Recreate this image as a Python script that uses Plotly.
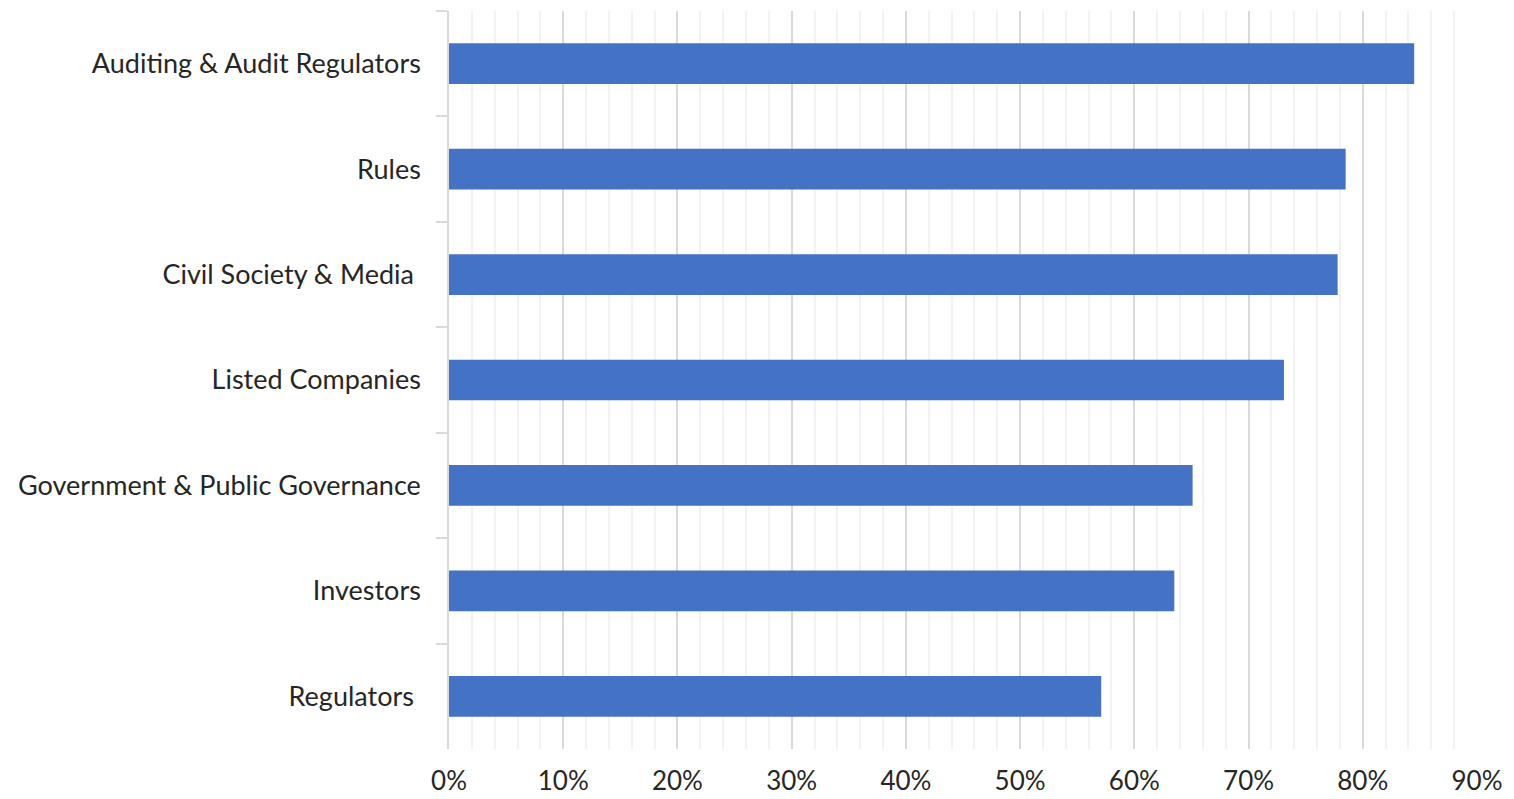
import plotly.graph_objects as go

categories = [
    "Auditing & Audit Regulators",
    "Rules",
    "Civil Society & Media ",
    "Listed Companies",
    "Government & Public Governance",
    "Investors",
    "Regulators ",
]
values = [0.845, 0.785, 0.778, 0.731, 0.651, 0.635, 0.571]
tick_vals = [0, 0.1, 0.2, 0.3, 0.4, 0.5, 0.6, 0.7, 0.8, 0.9]
tick_text = ["0%", "10%", "20%", "30%", "40%", "50%", "60%", "70%", "80%", "90%"]

fig = go.Figure(
    go.Bar(
        x=values,
        y=categories,
        orientation="h",
        marker=dict(color="#4472C4", line=dict(width=0)),
        width=0.386,
    )
)

font_family = "Lato, 'Open Sans', sans-serif"

fig.update_layout(
    width=1514,
    height=799,
    margin=dict(l=449, r=37, t=11, b=50),
    paper_bgcolor="white",
    plot_bgcolor="white",
    showlegend=False,
    font=dict(family=font_family, size=27, color="#262626"),
    xaxis=dict(
        range=[0, 0.9],
        tickvals=tick_vals,
        ticktext=tick_text,
        showgrid=True,
        gridcolor="#d9d9d9",
        gridwidth=1.5,
        zeroline=False,
        showline=False,
        ticks="",
        tickfont=dict(size=26, color="#262626"),
        ticklabelstandoff=14,
        minor=dict(dtick=0.02, tick0=0, showgrid=True, gridcolor="#f2f2f2", gridwidth=1.5),
        automargin=False,
        fixedrange=True,
    ),
    yaxis=dict(
        autorange="reversed",
        showline=True,
        linecolor="#d9d9d9",
        linewidth=1.5,
        ticks="outside",
        tickson="boundaries",
        ticklen=11,
        tickcolor="#d9d9d9",
        tickwidth=1.5,
        showgrid=False,
        tickfont=dict(size=27, color="#262626"),
        ticklabelstandoff=21,
        automargin=False,
        fixedrange=True,
    ),
)

fig.write_html(
    "out.html",
    config={"displayModeBar": False},
    post_script="document.body.style.margin='0';",
)
